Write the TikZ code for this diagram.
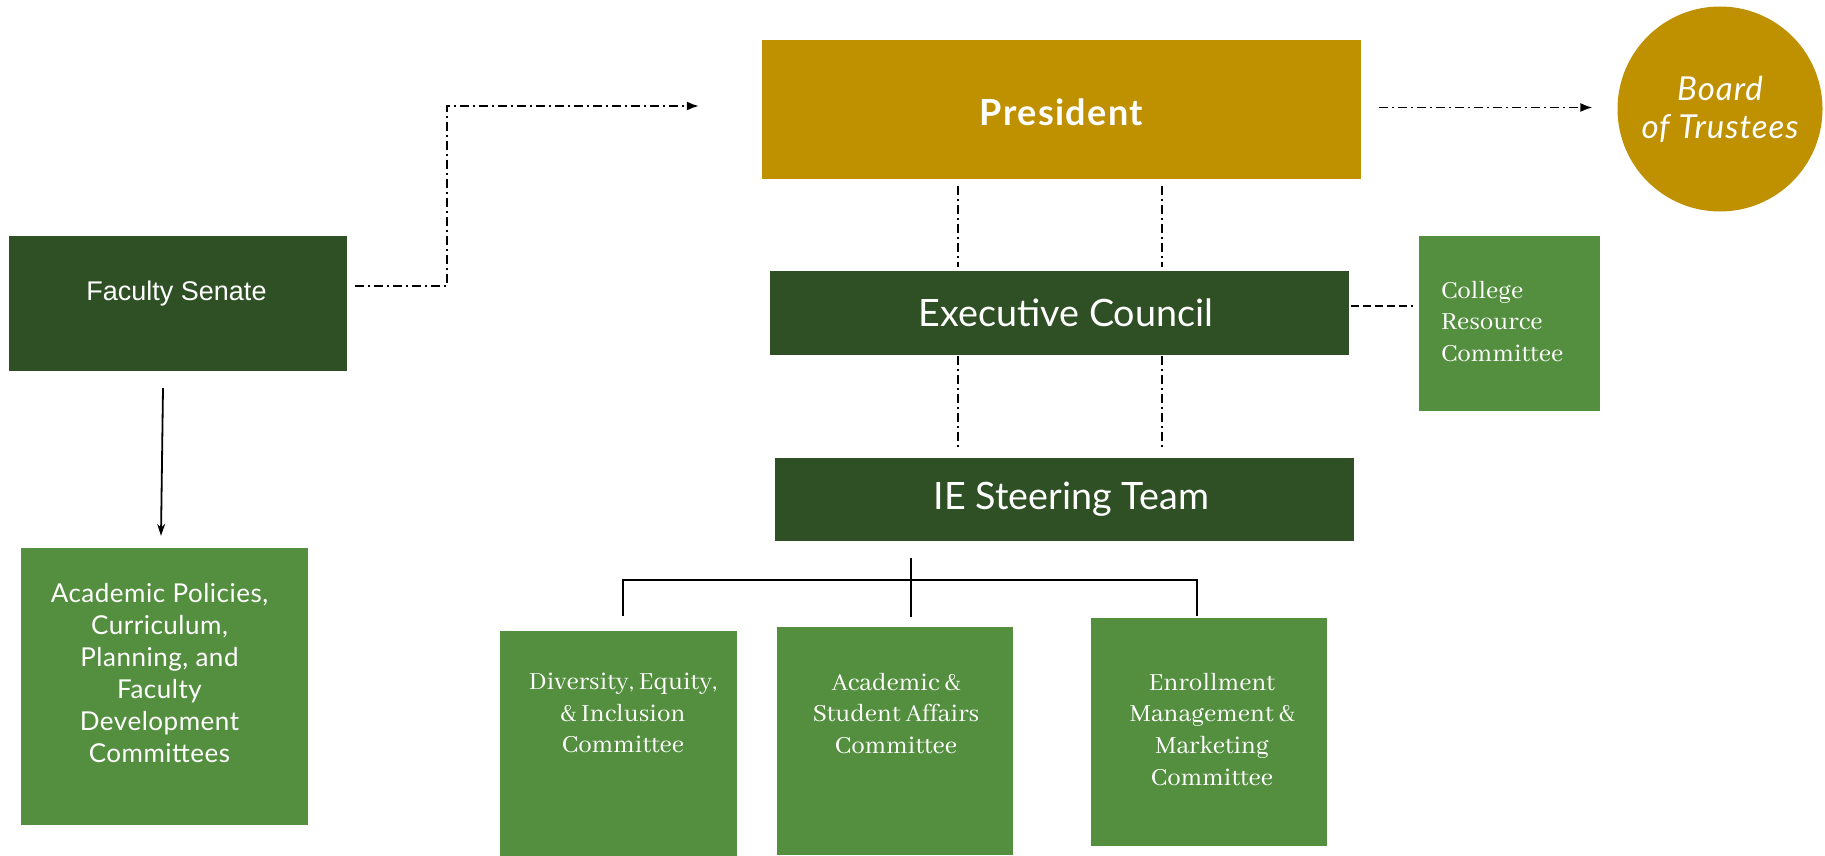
\documentclass[tikz,border=0pt]{standalone}
\usepackage{fontspec}
\setmainfont{Lato}
\newfontfamily\arialfont{Liberation Sans}
\newfontfamily\garafont{Abhaya Libre}
\usetikzlibrary{shapes,positioning,calc}
\usetikzlibrary{arrows.meta}
\definecolor{gold}{HTML}{BF9000}
\definecolor{darkgreen}{HTML}{2E5024}
\definecolor{leafgreen}{HTML}{548F3F}
\tikzstyle{arrow} = [line width=1.8pt,-{Stealth[length=12pt,width=8pt]}]
\tikzstyle{dotdash} = [line width=1.6pt,dash pattern=on 9pt off 4pt on 2pt off 4pt]

\begin{document}
\begin{tikzpicture}[x=1pt,y=-1pt,
	box/.style={rectangle, fill=#1, text=white, inner sep=0pt, anchor=center},
	comtext/.style={anchor=north, inner sep=0pt, align=center, text=white, font=\garafont\fontsize{27}{31.7}\selectfont},
	tree/.style={line width=2pt},
	dashline/.style={line width=1.8pt, dash pattern=on 8pt off 4pt}]
	
	\useasboundingbox (0,0) rectangle (1825,856);
	
	% TOP
	
	\node [box=gold, minimum width=599pt, minimum height=139pt] (president) at (1061.5,109.5) {};
	\node [text=white, inner sep=0pt, font=\bfseries\fontsize{36}{42}\selectfont\addfontfeature{LetterSpace=4}] (presidenttext) at ([yshift=-3pt]president.center) {President};
	
	\node [circle, fill=gold, minimum size=205pt, inner sep=0pt, text=white, align=center, font=\itshape\fontsize{33}{38}\selectfont\addfontfeature{LetterSpace=3}] (board) at (1720,109) {Board\\of Trustees};
	
	% COUNCILS
	
	\node [box=darkgreen, minimum width=579pt, minimum height=84pt, font=\fontsize{37.7}{45}\selectfont] (council) at (1059.5,313) {\hspace*{13pt}Executive Council};
	
	\node [box=darkgreen, minimum width=579pt, minimum height=83pt, font=\fontsize{37.7}{45}\selectfont] (steering) at (1064.5,499.5) {\hspace*{14pt}IE Steering Team};
	
	\node [box=leafgreen, minimum width=181pt, minimum height=175pt] (crc) at (1509.5,323.5) {};
	\node [anchor=north west, inner sep=0pt, align=left, text=white, font=\garafont\fontsize{27}{31.7}\selectfont] (crctext) at ([xshift=22pt,yshift=-45pt]crc.north west) {College\\Resource\\Committee};
	
	% FACULTY
	
	\node [box=darkgreen, minimum width=338pt, minimum height=135pt] (senate) at (178,303.5) {};
	\node [text=white, inner sep=0pt, font=\arialfont\fontsize{27}{32}\selectfont] (senatetext) at ([xshift=-1.5pt,yshift=10pt]senate.center) {Faculty Senate};
	
	\node [box=leafgreen, minimum width=287pt, minimum height=277pt] (apc) at (164.5,686.5) {};
	\node [anchor=north, inner sep=0pt, align=center, text=white, font=\fontsize{26}{32}\selectfont\addfontfeature{LetterSpace=2}] (apctext) at ([xshift=-5pt,yshift=-35pt]apc.north) {Academic Policies,\\Curriculum,\\Planning, and\\Faculty\\Development\\Committees};
	
	% COMMITTEES
	
	\node [box=leafgreen, minimum width=237pt, minimum height=225pt] (dei) at (618.5,743.5) {};
	\node [comtext] (deitext) at ([xshift=4.5pt,yshift=-42pt]dei.north) {Diversity, Equity,\\\& Inclusion\\Committee};
	
	\node [box=leafgreen, minimum width=236pt, minimum height=228pt] (asa) at (895,741) {};
	\node [comtext] (asatext) at ([xshift=1pt,yshift=-46pt]asa.north) {Academic \&\\Student Affairs\\Committee};
	
	\node [box=leafgreen, minimum width=236pt, minimum height=228pt] (emm) at (1209,732) {};
	\node [comtext] (emmtext) at ([xshift=3pt,yshift=-55pt]emm.north) {Enrollment\\Management \&\\Marketing\\Committee};
	
	% LINKS
	
	\draw [dotdash, -{Latex[length=12pt,width=9pt]}] ([xshift=8pt,yshift=17.5pt]senate.east) -- ++(92,0) |- ([xshift=-63pt,yshift=3.5pt]president.west);
	
	\draw [dotdash, -{Latex[length=12pt,width=9pt]}] ([xshift=18pt,yshift=2pt]president.east) coordinate (pb) -- ($(pb -| board.west)+(-25,0)$);
	
	\foreach \dx in {-103.5,100.5} {
		\draw [dotdash] ([xshift=\dx pt,yshift=-7pt]president.south) coordinate (top) -- ($(top |- council.north)+(0,-4)$);
		\draw [dotdash] ($(top |- council.south)+(0,1)$) -- ($(top |- steering.north)+(0,-8)$);
	}
	
	\draw [dashline] ([xshift=2pt,yshift=7pt]council.east) coordinate (cr) -- ($(cr -| crc.west)+(-6,0)$);
	
	\draw [arrow] ([xshift=-15pt,yshift=-17pt]senate.south) -- ([xshift=-3.5pt,yshift=12pt]apc.north);
	
	\coordinate (fork) at (911,580);
	\draw [tree] ([yshift=22pt]fork) -- ($(fork |- asa.north)+(0,-10)$);
	\draw [tree] ($(dei.north)+(4.5,-15)$) |- ($(emm.north)+(-12,-38)$) -- ($(emm.north)+(-12,-2)$);
	
\end{tikzpicture}
\end{document}
